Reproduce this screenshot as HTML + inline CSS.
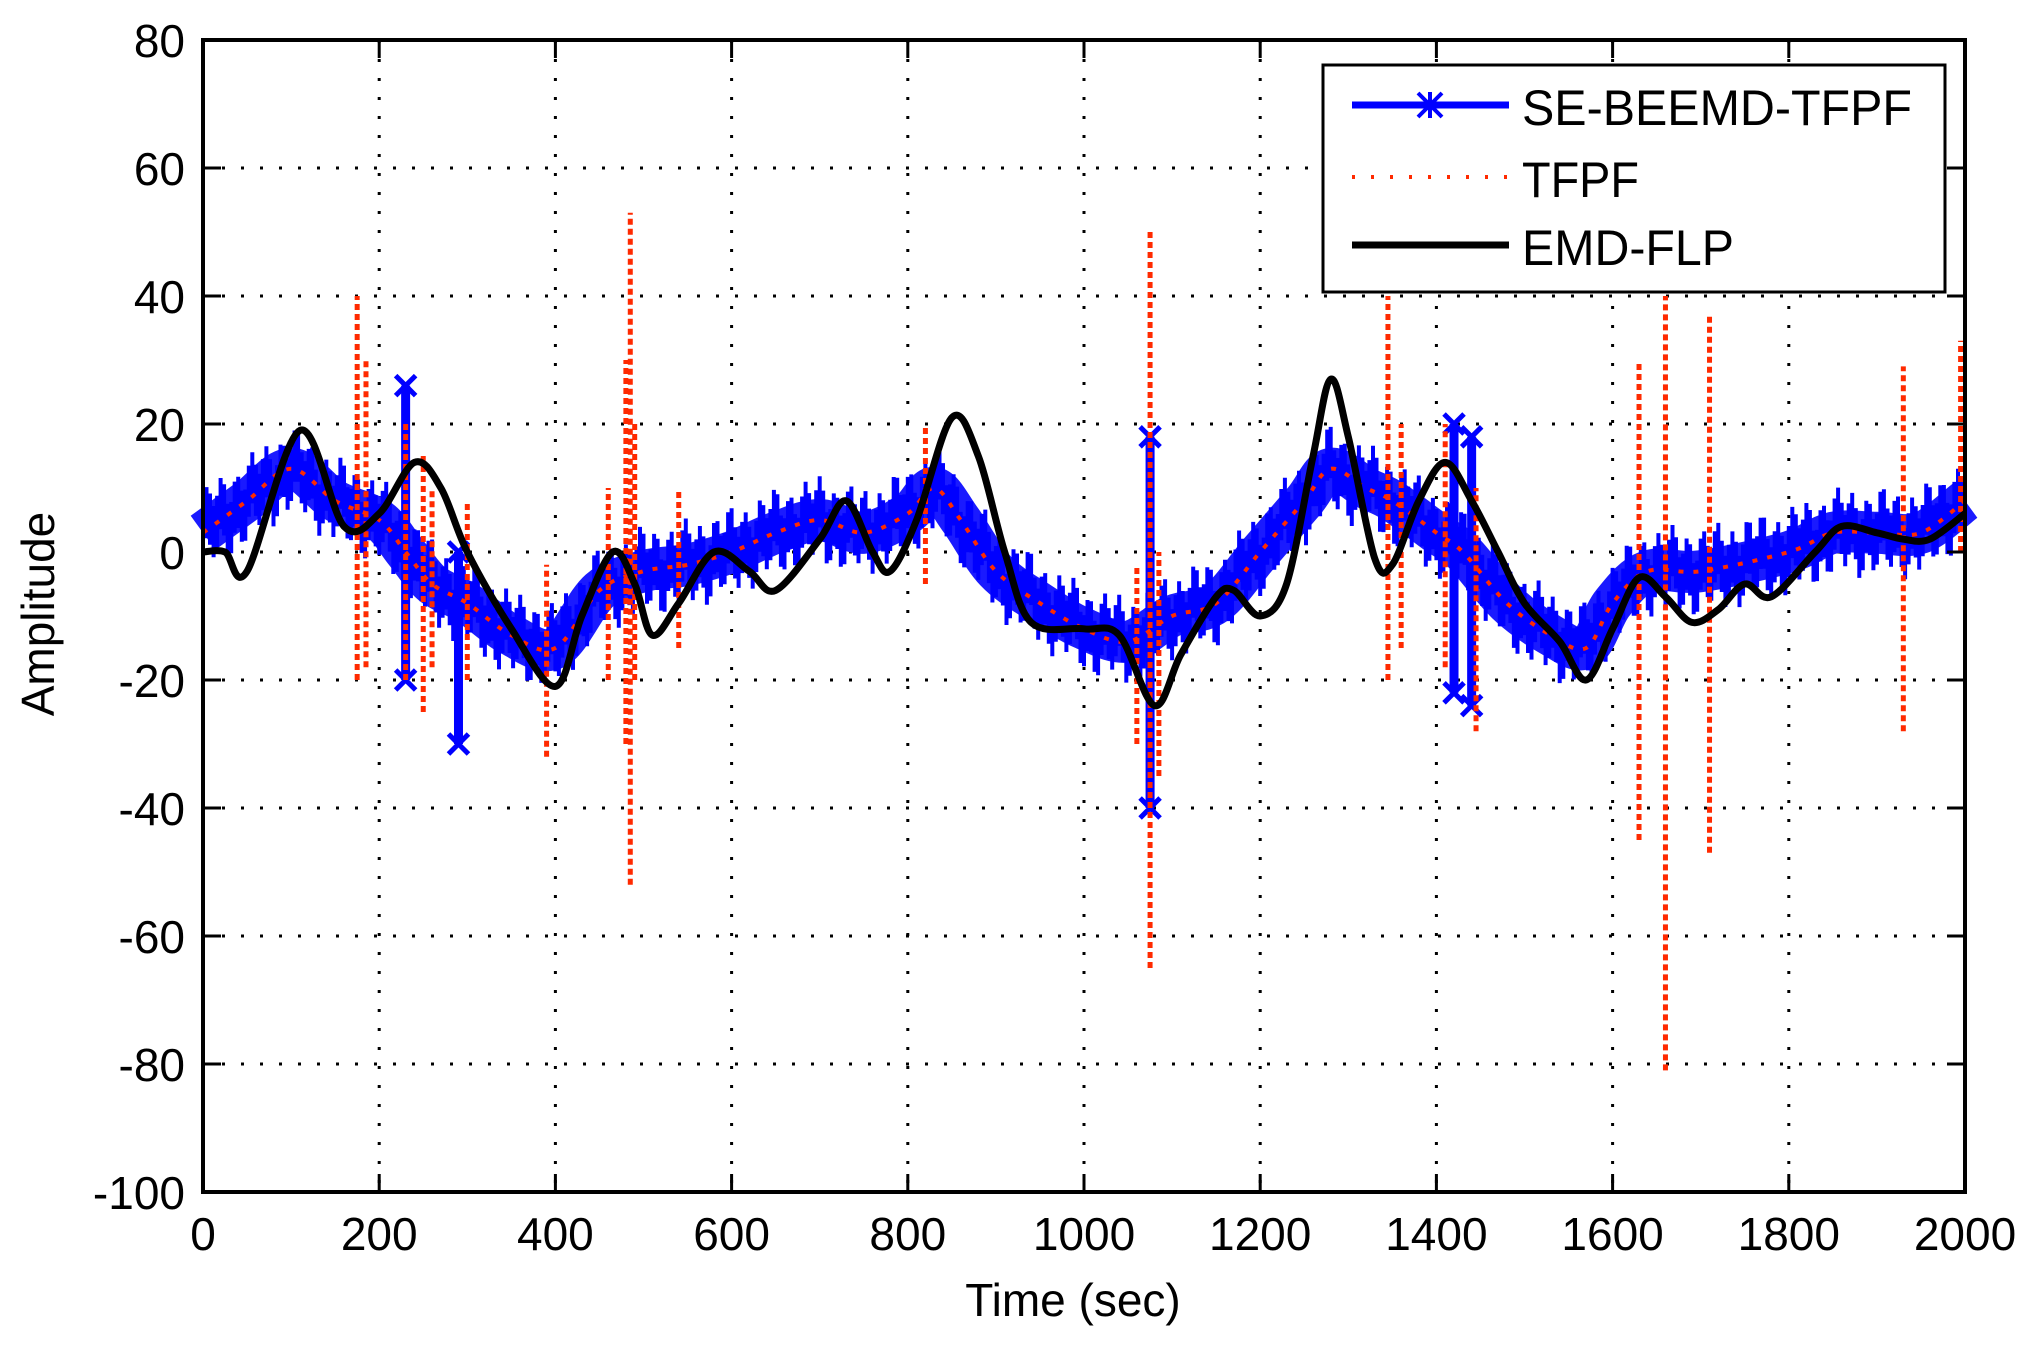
<!DOCTYPE html>
<html><head><meta charset="utf-8"><style>
html,body{margin:0;padding:0;background:#fff;}
svg{display:block;font-family:"Liberation Sans",sans-serif;}
</style></head><body>
<svg id="s" width="2026" height="1346" viewBox="0 0 2026 1346" xmlns="http://www.w3.org/2000/svg">
<rect width="2026" height="1346" fill="#fff"/>
<g id="grid"></g>
<g id="data"></g>
<g id="axes"></g>
<g id="legend">
<rect x="1323" y="65" width="622" height="227" fill="#fff" stroke="#000" stroke-width="3"/>
<line x1="1352" y1="105" x2="1509" y2="105" stroke="#0000ff" stroke-width="7"/>
<path d="M1418 93 L1442 117 M1418 117 L1442 93 M1430 92 L1430 118" stroke="#0000ff" stroke-width="4"/>
<line x1="1352" y1="177" x2="1509" y2="177" stroke="#ff2a00" stroke-width="4" stroke-dasharray="3 16"/>
<line x1="1352" y1="245" x2="1509" y2="245" stroke="#000" stroke-width="7"/>
<text x="1522" y="125" font-size="50" textLength="390" lengthAdjust="spacingAndGlyphs">SE-BEEMD-TFPF</text>
<text x="1522" y="197" font-size="50" textLength="117" lengthAdjust="spacingAndGlyphs">TFPF</text>
<text x="1522" y="265" font-size="50" textLength="212" lengthAdjust="spacingAndGlyphs">EMD-FLP</text>
</g>
</svg>
<script>
const NS="http://www.w3.org/2000/svg";
const L=203,R=1965,T=40,B=1192;
const X=t=>L+t*(R-L)/2000, Y=a=>T+(80-a)*(B-T)/180;
function el(p,tag,at,txt){const e=document.createElementNS(NS,tag);for(const k in at)e.setAttribute(k,at[k]);if(txt!=null)e.textContent=txt;p.appendChild(e);return e;}
const g=document.getElementById('grid'),d=document.getElementById('data'),ax=document.getElementById('axes');
for(let t=200;t<2000;t+=200)el(g,'line',{x1:X(t),y1:T,x2:X(t),y2:B,stroke:'#000','stroke-width':3,'stroke-dasharray':'3 16'});
for(let a=60;a>-100;a-=20)el(g,'line',{x1:L,y1:Y(a),x2:R,y2:Y(a),stroke:'#000','stroke-width':3,'stroke-dasharray':'3 16'});
function smooth(arr){let s='M'+X(arr[0][0])+','+Y(arr[0][1]);for(let i=0;i<arr.length-1;i++){const p0=arr[Math.max(0,i-1)],p1=arr[i],p2=arr[i+1],p3=arr[Math.min(arr.length-1,i+2)];
const c1=[X(p1[0])+(X(p2[0])-X(p0[0]))/6,Y(p1[1])+(Y(p2[1])-Y(p0[1]))/6],c2=[X(p2[0])-(X(p3[0])-X(p1[0]))/6,Y(p2[1])-(Y(p3[1])-Y(p1[1]))/6];
s+=` C${c1[0].toFixed(1)},${c1[1].toFixed(1)} ${c2[0].toFixed(1)},${c2[1].toFixed(1)} ${X(p2[0]).toFixed(1)},${Y(p2[1]).toFixed(1)}`;}return s;}
const blue=[[0,3],[50,8],[100,13],[150,8],[200,5],[230,0],[260,-5],[300,-8],[350,-13],[400,-15],[450,-6],[500,-3],[550,-2],[600,0],[650,3],[700,5],[750,3],[800,6],[830,10],[860,5],[900,-3],[950,-8],[1000,-12],[1050,-14],[1100,-10],[1150,-8],[1200,0],[1250,8],[1280,13],[1320,10],[1350,8],[1400,3],[1430,0],[1480,-8],[1530,-13],[1570,-15],[1600,-8],[1640,-3],[1700,-3],[1800,0],[1850,3],[1900,3],[1950,3],[2000,8]];
el(d,'path',{d:smooth(blue),fill:'none',stroke:'#1a1aff','stroke-width':42,'stroke-linejoin':'round','stroke-linecap':'butt'});
let jp='';for(let t=0;t<=2000;t+=4){let i=0;while(i<blue.length-2&&blue[i+1][0]<t)i++;const a=blue[i],b=blue[i+1];const v=a[1]+(b[1]-a[1])*(t-a[0])/(b[0]-a[0]);const o=(Math.sin(t*1.7)*0.5+Math.sin(t*0.37))*2.2;jp+=`M${X(t).toFixed(1)},${Y(v+o-4).toFixed(1)}V${Y(v+o+4).toFixed(1)}`;}
el(d,'path',{d:jp,stroke:'#0000ff','stroke-width':4,fill:'none'});
[[230,-20,26],[290,-30,0],[1075,-40,18],[1420,-22,20],[1440,-24,18]].forEach(s=>{el(d,'line',{x1:X(s[0]),y1:Y(s[1]),x2:X(s[0]),y2:Y(s[2]),stroke:'#0000ff','stroke-width':9});
[s[1],s[2]].forEach(a=>el(d,'path',{d:`M${X(s[0])-10},${Y(a)-10}L${X(s[0])+10},${Y(a)+10}M${X(s[0])-10},${Y(a)+10}L${X(s[0])+10},${Y(a)-10}`,stroke:'#0000ff','stroke-width':5}));});
el(d,'path',{d:smooth(blue),fill:'none',stroke:'#ff2a00','stroke-width':4,'stroke-dasharray':'5 10'});
[[175,-20,40],[185,-18,30],[230,-20,20],[250,-25,15],[260,-18,10],[300,-20,8],[390,-32,-2],[460,-20,10],[480,-30,30],[485,-52,53],[490,-20,20],[540,-15,10],[820,-5,20],[1060,-30,-2],[1075,-65,50],[1085,-35,0],[1345,-20,40],[1360,-15,20],[1410,-18,20],[1445,-28,10],[1630,-45,30],[1660,-81,40],[1710,-47,37],[1930,-28,29],[1995,0,33]].forEach(s=>
el(d,'line',{x1:X(s[0]),y1:Y(s[1]),x2:X(s[0]),y2:Y(s[2]),stroke:'#ff2a00','stroke-width':5,'stroke-dasharray':'6 4'}));
const blk=[[0,0],[25,0],[50,-3],[110,19],[160,4],[200,6],[240,14],[270,10],[300,0],[350,-12],[400,-21],[430,-10],[465,0],[490,-5],[510,-13],[540,-8],[580,0],[620,-3],[650,-6],[700,2],[730,8],[760,0],[780,-3],[810,5],[850,21],[880,15],[910,0],[940,-11],[1000,-12],[1040,-13],[1080,-24],[1110,-16],[1150,-7],[1170,-6],[1200,-10],[1230,-5],[1260,15],[1280,27],[1300,18],[1330,-1],[1350,-2],[1380,8],[1410,14],[1440,8],[1470,0],[1500,-8],[1540,-14],[1570,-20],[1600,-12],[1630,-4],[1660,-7],[1690,-11],[1720,-9],[1750,-5],[1780,-7],[1830,0],[1860,4],[1900,3],[1930,2],[1960,2],[2000,6]];
el(d,'path',{d:smooth(blk),fill:'none',stroke:'#000','stroke-width':7,'stroke-linejoin':'round'});
el(ax,'rect',{x:L,y:T,width:R-L,height:B-T,fill:'none',stroke:'#000','stroke-width':4});
for(let t=0;t<=2000;t+=200){el(ax,'line',{x1:X(t),y1:B,x2:X(t),y2:B-18,stroke:'#000','stroke-width':3});el(ax,'line',{x1:X(t),y1:T,x2:X(t),y2:T+18,stroke:'#000','stroke-width':3});
el(ax,'text',{x:X(t),y:1250,'font-size':46,'text-anchor':'middle'},t);}
for(let a=80;a>=-100;a-=20){el(ax,'line',{x1:L,y1:Y(a),x2:L+18,y2:Y(a),stroke:'#000','stroke-width':3});el(ax,'line',{x1:R,y1:Y(a),x2:R-18,y2:Y(a),stroke:'#000','stroke-width':3});
el(ax,'text',{x:185,y:Y(a)+17,'font-size':46,'text-anchor':'end'},a);}
el(ax,'text',{x:1073,y:1316,'font-size':46,'text-anchor':'middle'},'Time (sec)');
el(ax,'text',{x:0,y:0,'font-size':46,'text-anchor':'middle',transform:'translate(54,614) rotate(-90)'},'Amplitude');
</script>
</body></html>
